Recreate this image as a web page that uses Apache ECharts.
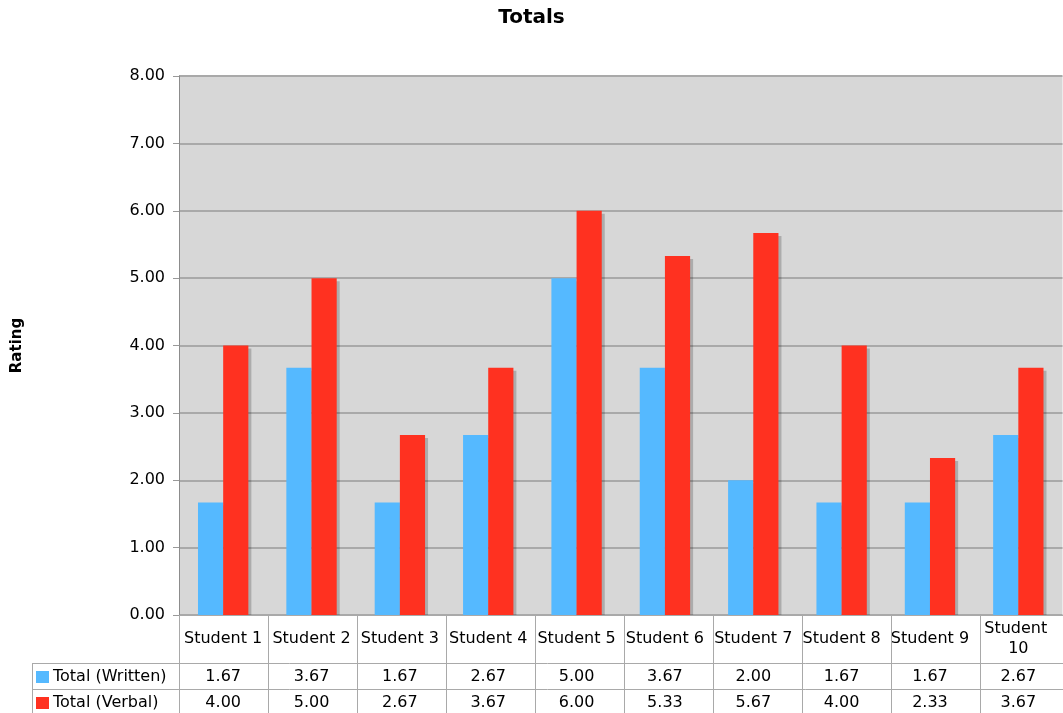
<!DOCTYPE html>
<html>
<head>
<meta charset="utf-8">
<title>Totals</title>
<script src="https://cdn.jsdelivr.net/npm/echarts@6/dist/echarts.min.js"></script>
<style>
  html, body { margin: 0; padding: 0; background: #ffffff; }
  #chart { width: 1063px; height: 713px; }
</style>
</head>
<body>
<div id="chart"></div>
<script>
// Ratings per student
const students = ['Student 1', 'Student 2', 'Student 3', 'Student 4', 'Student 5',
                  'Student 6', 'Student 7', 'Student 8', 'Student 9', 'Student 10'];
const written = [1.67, 3.67, 1.67, 2.67, 5.00, 3.67, 2.00, 1.67, 1.67, 2.67];
const verbal  = [4.00, 5.00, 2.67, 3.67, 6.00, 5.33, 5.67, 4.00, 2.33, 3.67];
const seriesNames = ['Total (Written)', 'Total (Verbal)'];
const seriesColors = ['#55b9ff', '#ff3120'];

const FONT = 'DejaVu Sans, Verdana, sans-serif';
const LINE = '#a9a9a9';

// Plot box and data-table rows (pixels)
const plotLeft = 179, plotTop = 76, plotWidth = 890, plotBottomY = 615;
const colWidth = plotWidth / students.length;
const headerMid = 639, writtenMid = 677, verbalMid = 703;
const rowLine1 = 663, rowLine2 = 689;
const tableLeft = 32;

const chart = echarts.init(document.getElementById('chart'), null, { renderer: 'canvas' });

function rowAxis(values, centerY) {
  return {
    type: 'category',
    data: students,
    position: 'bottom',
    axisLine: { show: false },
    axisTick: { show: false },
    splitLine: { show: false },
    axisLabel: {
      interval: 0,
      margin: centerY - plotBottomY,
      verticalAlign: 'middle',
      fontFamily: FONT,
      fontSize: 16,
      color: '#000',
      formatter: (v, i) => values[i].toFixed(2)
    }
  };
}

const barShadow = {
  shadowColor: 'rgba(0,0,0,0.2)',
  shadowBlur: 0,
  shadowOffsetX: 3,
  shadowOffsetY: 3
};

// Table frame: horizontal rules, legend-column border, column separators
const tableLines = [
  { type: 'rect', z: 10, shape: { x: plotLeft, y: plotBottomY + 0.5, width: plotWidth, height: 4 },
    style: { fill: '#ffffff' }, silent: true },
  { type: 'line', z: 11, shape: { x1: plotLeft, y1: plotBottomY + 0.5, x2: 1063, y2: plotBottomY + 0.5 },
    style: { stroke: LINE, lineWidth: 1 }, silent: true },
  { type: 'line', z: 11, shape: { x1: tableLeft, y1: rowLine1 + 0.5, x2: 1063, y2: rowLine1 + 0.5 },
    style: { stroke: LINE, lineWidth: 1 }, silent: true },
  { type: 'line', z: 11, shape: { x1: tableLeft, y1: rowLine2 + 0.5, x2: 1063, y2: rowLine2 + 0.5 },
    style: { stroke: LINE, lineWidth: 1 }, silent: true },
  { type: 'line', z: 11, shape: { x1: tableLeft + 0.5, y1: rowLine1, x2: tableLeft + 0.5, y2: 713 },
    style: { stroke: LINE, lineWidth: 1 }, silent: true }
];
for (let i = 0; i <= students.length; i++) {
  const x = Math.round(plotLeft + i * colWidth) + 0.5;
  tableLines.push({ type: 'line', z: 11, shape: { x1: x, y1: plotBottomY, x2: x, y2: 713 },
    style: { stroke: LINE, lineWidth: 1 }, silent: true });
}

const legendCells = seriesNames.flatMap((name, i) => {
  const cy = i === 0 ? writtenMid : verbalMid;
  return [
    { type: 'rect', z: 11, shape: { x: 36, y: cy - 6, width: 13, height: 12 },
      style: { fill: seriesColors[i] }, silent: true },
    { type: 'text', z: 11, x: 53, y: cy,
      style: { text: name, font: '16px ' + FONT, fill: '#000', verticalAlign: 'middle', align: 'left' },
      silent: true }
  ];
});

const option = {
  animation: false,
  backgroundColor: '#ffffff',
  title: {
    text: 'Totals',
    left: 'center',
    top: 3,
    textStyle: { fontFamily: FONT, fontSize: 20, fontWeight: 'bold', color: '#000' }
  },
  grid: {
    left: plotLeft,
    top: plotTop,
    width: plotWidth,
    bottom: 713 - plotBottomY,
    show: true,
    backgroundColor: '#d7d7d7',
    borderWidth: 0,
    containLabel: false
  },
  xAxis: [
    {
      type: 'category',
      data: students,
      position: 'bottom',
      axisLine: { show: false },
      axisTick: { show: false },
      axisLabel: {
        interval: 0,
        margin: headerMid - plotBottomY,
        verticalAlign: 'middle',
        align: 'center',
        width: 84,
        overflow: 'break',
        lineHeight: 20,
        fontFamily: FONT,
        fontSize: 16,
        color: '#000'
      }
    },
    rowAxis(written, writtenMid),
    rowAxis(verbal, verbalMid)
  ],
  yAxis: {
    type: 'value',
    min: 0,
    max: 8,
    interval: 1,
    name: 'Rating',
    nameLocation: 'middle',
    nameRotate: 90,
    nameGap: 154,
    nameTextStyle: { fontFamily: FONT, fontSize: 15, fontWeight: 'bold', color: '#000' },
    axisLine: { show: true, lineStyle: { color: '#8c8c8c', width: 1 } },
    axisTick: { show: true, length: 6, lineStyle: { color: '#999', width: 1 } },
    axisLabel: {
      margin: 14,
      fontFamily: FONT,
      fontSize: 16,
      color: '#000',
      formatter: v => v.toFixed(2)
    },
    splitLine: { show: true, lineStyle: { color: LINE, width: 2 } }
  },
  series: [
    {
      name: seriesNames[0],
      type: 'bar',
      xAxisIndex: 0,
      data: written,
      barGap: '0%',
      barCategoryGap: '43%',
      itemStyle: Object.assign({ color: seriesColors[0] }, barShadow)
    },
    {
      name: seriesNames[1],
      type: 'bar',
      xAxisIndex: 0,
      data: verbal,
      barGap: '0%',
      barCategoryGap: '43%',
      itemStyle: Object.assign({ color: seriesColors[1] }, barShadow)
    }
  ],
  graphic: tableLines.concat(legendCells)
};

chart.setOption(option);
</script>
</body>
</html>
